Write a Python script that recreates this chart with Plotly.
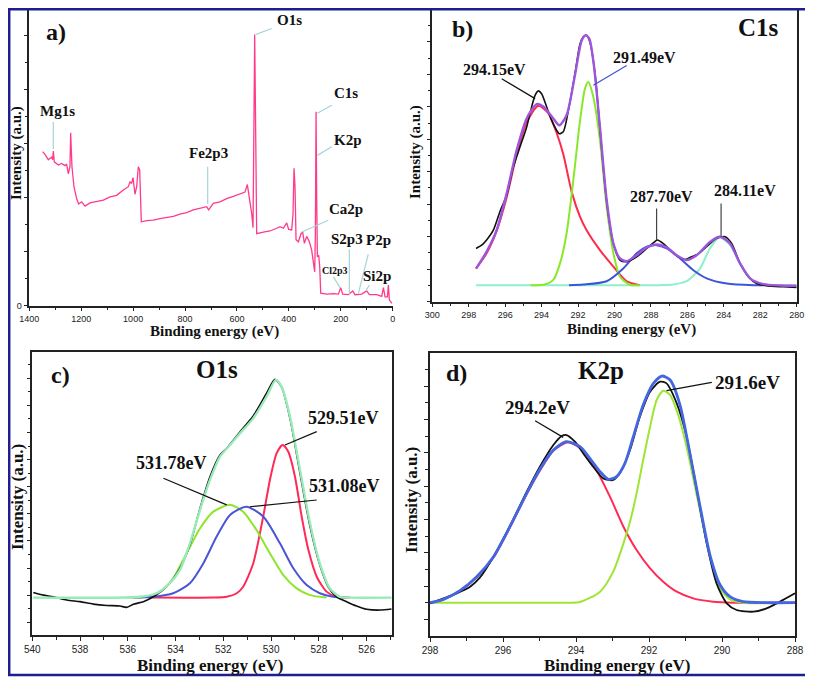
import plotly.graph_objects as go

# The page body has an 8px default margin, so the figure is drawn 8px smaller
# and every layout position below is given in page pixels minus that offset.
PAGE_W, PAGE_H = 813, 682
OFF = 8
W, H = PAGE_W - OFF, PAGE_H - OFF

# ---------------- Panel a: survey spectrum ----------------
a_be = [1348.6, 1339.6, 1326.8, 1313.9, 1310.1, 1307.5, 1303.7, 1288.2, 1275.4, 1262.6, 1256.1, 1249.7,
        1243.3, 1240.7, 1235.6, 1227.9, 1217.6, 1209.9, 1198.3, 1185.5, 1166.2, 1140.5, 1114.8, 1089.1,
        1063.5, 1037.8, 1018.5, 1012.1, 1005.7, 1000.5, 992.8, 986.4, 980.0, 974.8, 968.4, 947.9, 922.2,
        896.5, 870.8, 845.1, 819.4, 793.7, 768.0, 742.3, 716.7, 709.1, 691.0, 665.3, 639.6, 613.9, 588.2,
        569.0, 560.0, 552.2, 543.2, 538.1, 534.3, 531.7, 527.8, 524.0, 498.3, 472.6, 446.9, 434.1, 421.2,
        408.4, 400.7, 389.1, 384.0, 380.1, 376.3, 372.4, 363.4, 353.1, 346.7, 340.3, 331.3, 321.0, 312.0,
        305.6, 300.5, 297.9, 295.3, 292.7, 290.2, 285.1, 281.2, 277.3, 254.2, 228.5, 209.3, 200.3, 192.6,
        170.7, 154.0, 145.0, 119.4, 100.1, 89.8, 61.6, 42.3, 35.8, 29.4, 20.4, 16.6, 12.7, 7.6, 2.5]
a_int = [2.85, 2.80, 2.70, 2.75, 2.70, 2.86, 2.66, 2.60, 2.63, 2.59, 2.62, 2.44,
         2.57, 3.20, 2.57, 2.20, 1.98, 1.88, 1.92, 1.84, 1.90, 1.92, 1.95, 2.01,
         2.04, 2.14, 2.20, 2.29, 2.26, 2.37, 2.06, 2.20, 2.57, 2.51, 1.55, 1.57, 1.58,
         1.61, 1.63, 1.65, 1.69, 1.72, 1.77, 1.80, 1.83, 1.77, 1.89, 1.92, 1.98, 2.02, 2.07,
         2.10, 2.24, 2.01, 1.70, 1.44, 3.19, 5.02, 3.19, 1.33, 1.36, 1.38, 1.43, 1.46, 1.43,
         1.53, 1.41, 1.40, 1.70, 2.54, 2.20, 1.22, 1.18, 1.33, 1.36, 1.15, 1.28, 1.18, 1.02,
         0.78, 0.62, 1.33, 3.59, 1.95, 0.90, 0.93, 0.72, 0.23, 0.21, 0.22, 0.21, 0.33, 0.21,
         0.20, 0.27, 0.20, 0.21, 0.27, 0.20, 0.20, 0.17, 0.33, 0.16, 0.16, 0.38, 0.10, 0.07, 0.04]
a_xticks = [1400, 1200, 1000, 800, 600, 400, 200, 0]

# ---------------- Panel b: C1s ----------------
b_raw_be = [297.60, 297.29, 297.02, 296.65, 296.29, 295.92, 295.55, 295.19, 294.82, 294.55, 294.36, 294.18,
            294.00, 293.72, 293.45, 293.18, 293.03, 292.81, 292.53, 292.17, 291.89, 291.71, 291.53, 291.35,
            291.07, 290.80, 290.43, 290.06, 289.70, 289.33, 288.78, 288.23, 287.87, 287.65, 287.32, 286.95,
            286.50, 286.13, 285.86, 285.40, 284.85, 284.39, 283.93, 283.57, 283.11, 282.65, 282.20, 281.65,
            280.73, 280.00]
b_raw = [1.64, 1.74, 1.90, 2.20, 2.77, 3.28, 4.15, 4.76, 5.38, 5.99, 6.35, 6.49,
         6.40, 5.99, 5.58, 5.28, 5.17, 5.23, 5.89, 7.02, 7.94, 8.15, 8.20, 7.99,
         7.02, 5.33, 3.07, 1.79, 1.28, 1.23, 1.38, 1.64, 1.81, 1.90, 1.79, 1.59,
         1.38, 1.30, 1.36, 1.47, 1.74, 1.95, 2.00, 1.79, 1.18, 0.77, 0.56, 0.49,
         0.46, 0.44]
b_env_be = [297.60, 297.02, 296.47, 295.92, 295.37, 294.82, 294.27, 293.91, 293.36, 293.03, 292.63, 292.17,
            291.80, 291.58, 291.38, 291.13, 290.80, 290.43, 290.06, 289.70, 289.33, 288.78, 288.23, 287.69,
            287.14, 286.59, 286.04, 285.49, 284.76, 284.21, 283.66, 283.11, 282.56, 281.83, 280.92, 280.00]
b_env = [1.02, 1.54, 2.20, 3.33, 4.66, 5.64, 6.08, 6.01, 5.64, 5.43, 5.74, 6.97,
         8.04, 8.20, 8.09, 7.27, 5.38, 3.13, 1.79, 1.33, 1.25, 1.43, 1.67, 1.76,
         1.67, 1.43, 1.28, 1.43, 1.84, 2.00, 1.79, 1.18, 0.72, 0.54, 0.50, 0.49]
b_p1_be = [297.60, 297.02, 296.47, 295.92, 295.37, 294.82, 294.18, 293.63, 293.18, 292.81, 292.35, 291.89,
           291.53, 290.80, 290.06, 289.33, 288.60]
b_p1 = [1.02, 1.49, 2.18, 3.21, 4.52, 5.52, 6.03, 5.80, 5.20, 4.54, 3.38, 2.61,
        2.20, 1.59, 1.08, 0.63, 0.51]
b_p2_be = [294.60, 293.90, 293.36, 292.99, 292.63, 292.26, 291.89, 291.62, 291.44, 291.16, 290.80, 290.43,
           290.06, 289.70, 289.15, 288.60]
b_p2 = [0.51, 0.52, 0.67, 1.18, 2.10, 3.74, 5.58, 6.56, 6.76, 6.30, 4.97, 2.92,
        1.49, 0.77, 0.52, 0.51]
b_p3_be = [292.50, 291.71, 290.43, 289.52, 288.78, 288.23, 287.69, 287.14, 286.40, 285.67, 284.94, 283.84,
           282.38, 281.50]
b_p3 = [0.51, 0.53, 0.63, 1.02, 1.49, 1.69, 1.74, 1.64, 1.33, 0.97, 0.72, 0.56,
        0.51, 0.51]
b_p4_be = [297.60, 292.00, 287.50, 286.77, 286.04, 285.31, 284.76, 284.21, 283.66, 283.11, 282.57, 282.02,
           281.47, 280.00]
b_p4 = [0.51, 0.51, 0.51, 0.53, 0.63, 1.02, 1.64, 1.98, 1.74, 1.18, 0.72, 0.54,
        0.51, 0.51]
b_xticks = [300, 298, 296, 294, 292, 290, 288, 286, 284, 282, 280]

# ---------------- Panel c: O1s ----------------
c_raw_be = [539.96, 539.54, 539.12, 538.56, 538.00, 537.45, 536.89, 536.33, 536.05, 535.77, 535.35, 534.93,
            534.38, 533.82, 533.40, 532.98, 532.56, 532.14, 531.86, 531.30, 530.75, 530.19, 529.84, 529.56,
            529.21, 528.79, 528.37, 527.96, 527.61, 527.26, 526.84, 526.42, 526.00, 525.44, 524.95]
c_raw = [2.10, 2.00, 1.94, 1.82, 1.76, 1.67, 1.62, 1.60, 1.55, 1.66, 1.76, 1.94,
         2.31, 2.99, 3.85, 5.20, 6.37, 7.17, 7.42, 8.03, 8.61, 9.45, 9.96, 9.67,
         8.52, 6.49, 4.53, 3.11, 2.31, 1.94, 1.76, 1.60, 1.48, 1.45, 1.49]
c_env_be = [539.96, 535.49, 534.79, 534.24, 533.82, 533.40, 532.98, 532.56, 532.14, 531.72, 531.30, 530.75,
            530.19, 529.80, 529.56, 529.21, 528.79, 528.37, 527.96, 527.54, 527.12, 526.70, 524.95]
c_env = [1.91, 1.94, 2.07, 2.44, 2.93, 3.91, 5.14, 6.25, 7.11, 7.54, 7.97, 8.52,
         9.32, 9.94, 9.69, 8.59, 6.62, 4.65, 3.17, 2.25, 1.94, 1.91, 1.91]
c_p1_be = [535.00, 532.42, 531.86, 531.44, 531.17, 530.75, 530.33, 530.05, 529.77, 529.52, 529.28, 529.00,
           528.72, 528.44, 528.09, 527.68, 527.26, 526.70]
c_p1 = [1.91, 1.91, 1.94, 2.07, 2.31, 3.17, 4.90, 6.25, 7.23, 7.54, 7.29, 6.37,
        4.90, 3.67, 2.68, 2.13, 1.94, 1.91]
c_p2_be = [536.05, 535.21, 534.65, 534.10, 533.54, 532.98, 532.42, 531.72, 531.17, 530.61, 530.05, 529.49,
           528.93, 528.37, 527.68]
c_p2 = [1.91, 1.94, 2.13, 2.62, 3.54, 4.46, 5.08, 5.33, 5.08, 4.40, 3.54, 2.74,
        2.25, 2.00, 1.91]
c_p3_be = [535.77, 534.93, 534.10, 533.40, 532.84, 532.28, 531.72, 531.03, 530.33, 529.63, 529.07, 528.51,
           527.96, 527.40, 526.84]
c_p3 = [1.91, 1.94, 2.07, 2.44, 3.17, 4.16, 4.96, 5.26, 4.90, 3.91, 2.99, 2.37,
        2.07, 1.94, 1.91]
c_xticks = [540, 538, 536, 534, 532, 530, 528, 526]

# ---------------- Panel d: K2p ----------------
d_raw_be = [298.00, 297.63, 297.27, 296.90, 296.63, 296.26, 295.81, 295.35, 294.99, 294.62, 294.39, 294.26,
            294.03, 293.80, 293.53, 293.25, 292.98, 292.75, 292.52, 292.25, 291.97, 291.70, 291.52, 291.24,
            290.97, 290.69, 290.42, 290.15, 289.87, 289.60, 289.14, 288.78, 288.41, 288.00]
d_raw = [1.48, 1.63, 1.78, 1.98, 2.26, 2.88, 3.80, 4.83, 5.58, 6.23, 6.50, 6.53,
         6.33, 5.98, 5.58, 5.23, 5.18, 5.48, 6.08, 7.08, 7.83, 8.13, 8.08, 7.48,
         6.48, 4.88, 3.28, 2.08, 1.48, 1.28, 1.23, 1.33, 1.53, 1.78]
d_env_be = [298.00, 297.63, 297.18, 296.72, 296.26, 295.81, 295.35, 294.99, 294.62, 294.26, 293.89, 293.62,
            293.34, 293.11, 292.89, 292.66, 292.43, 292.16, 291.88, 291.65, 291.42, 291.15, 290.88, 290.60,
            290.33, 290.05, 289.78, 289.42, 288.78, 288.00]
d_env = [1.50, 1.60, 1.86, 2.28, 2.88, 3.78, 4.78, 5.50, 6.08, 6.33, 6.18, 5.83,
         5.43, 5.20, 5.28, 5.68, 6.48, 7.43, 8.08, 8.30, 8.18, 7.43, 5.98, 4.38,
         2.93, 2.03, 1.68, 1.53, 1.50, 1.50]
d_p1_be = [298.00, 297.63, 297.18, 296.72, 296.26, 295.81, 295.35, 294.99, 294.62, 294.21, 293.80, 293.43,
           293.07, 292.70, 292.34, 291.97, 291.61, 291.24, 290.79, 290.24, 289.69, 288.00]
d_p1 = [1.48, 1.60, 1.85, 2.26, 2.86, 3.76, 4.76, 5.46, 6.06, 6.31, 6.06, 5.46,
        4.68, 3.78, 3.08, 2.53, 2.13, 1.83, 1.63, 1.53, 1.50, 1.50]
d_p2_be = [298.00, 294.26, 293.89, 293.34, 292.98, 292.70, 292.52, 292.34, 292.16, 291.97, 291.79, 291.61,
           291.42, 291.20, 290.97, 290.74, 290.51, 290.28, 290.05, 289.78, 289.42, 288.00]
d_p2 = [1.50, 1.50, 1.52, 1.83, 2.43, 3.28, 3.93, 4.78, 5.78, 6.78, 7.58, 7.86,
        7.73, 7.13, 6.18, 4.98, 3.78, 2.68, 1.93, 1.60, 1.50, 1.50]
d_xticks = [298, 296, 294, 292, 290, 288]


# ---------------- helpers ----------------
def px(x):
    return min(max((x - OFF) / W, 0.0), 1.0)


def py(y):
    return min(max(1 - (y - OFF) / H, 0.0), 1.0)


SERIF = "Liberation Serif, Times New Roman, serif"
SANS = "Liberation Sans, Arial, sans-serif"
AX = "#222222"


def axis(domain, anchor, rng, tickvals, ticktext, minor_vals, fsize, mirror, showlabels=True):
    return dict(domain=domain, anchor=anchor, range=rng, autorange=False, automargin=False,
                tickmode="array", tickvals=tickvals, ticktext=ticktext,
                showticklabels=showlabels, ticks="outside", ticklen=4, tickwidth=1.2,
                tickcolor=AX, showline=True, linecolor=AX, linewidth=1.5, mirror=mirror,
                showgrid=False, zeroline=False,
                tickfont=dict(family=SANS, size=fsize, color="#222"),
                minor=dict(tickvals=minor_vals, ticks="outside", ticklen=3,
                           tickcolor=AX, tickwidth=1, showgrid=False))


def frange(a, b, step):
    out = []
    v = a
    while v <= b + 1e-9:
        out.append(round(v, 3))
        v += step
    return out


fig = go.Figure()


def line(x, y, xa, ya, color, width, smooth=True):
    fig.add_trace(go.Scatter(x=x, y=y, xaxis=xa, yaxis=ya, mode="lines",
                             line=dict(color=color, width=width,
                                       shape="spline" if smooth else "linear",
                                       smoothing=0.7 if smooth else None),
                             hoverinfo="skip", showlegend=False))


# panel a
line(a_be, a_int, "x", "y", "#ff3a8c", 1.3, smooth=False)

# panel b
line(b_p4_be, b_p4, "x2", "y2", "#8ff0cc", 2)
line(b_p1_be, b_p1, "x2", "y2", "#ff2a4a", 2)
line(b_p2_be, b_p2, "x2", "y2", "#88e82a", 2)
line(b_p3_be, b_p3, "x2", "y2", "#3d55d6", 2)
line(b_raw_be, b_raw, "x2", "y2", "#111111", 1.6)
line(b_env_be, b_env, "x2", "y2", "#9d55dd", 2.4)

# panel c
line(c_p1_be, c_p1, "x3", "y3", "#ff2a55", 2)
line(c_p2_be, c_p2, "x3", "y3", "#8ee52a", 2)
line(c_p3_be, c_p3, "x3", "y3", "#4a55d6", 2)
line(c_raw_be, c_raw, "x3", "y3", "#111111", 1.6)
line(c_env_be, c_env, "x3", "y3", "#98ebb8", 2.4)

# panel d
line(d_p1_be, d_p1, "x4", "y4", "#ff2a55", 2)
line(d_p2_be, d_p2, "x4", "y4", "#9ee535", 2)
line(d_raw_be, d_raw, "x4", "y4", "#111111", 1.8)
line(d_env_be, d_env, "x4", "y4", "#4466e0", 2.8)

# panel a: y axis top sits at the figure's top edge (page y=8); 54 px per unit
a_ytop = (305.5 - OFF) / 54.0

layout = dict(
    width=W, height=H, margin=dict(l=0, r=0, t=0, b=0, autoexpand=False),
    paper_bgcolor="white", plot_bgcolor="rgba(0,0,0,0)", showlegend=False,
    xaxis=axis([px(29.3), px(392.7)], "y", [1400, 0], a_xticks, [str(v) for v in a_xticks],
               frange(100, 1300, 200), 9, False),
    yaxis=axis([py(305.5), 1.0], "x", [0, a_ytop], [0, 1, 2, 3, 4, 5], ["0", "", "", "", "", ""],
               frange(0.5, 5.5, 1), 9, False),
    xaxis2=axis([px(432.3), px(796.7)], "y2", [300, 280], b_xticks, [str(v) for v in b_xticks],
                frange(281, 299, 2), 9, True),
    yaxis2=axis([py(301.7), py(9.3)], "x2", [0, 9], list(range(0, 9)), [""] * 9,
                frange(0.5, 8.5, 1), 9, True, showlabels=False),
    xaxis3=axis([px(32.3), px(391.7)], "y3", [540, 524.95], c_xticks, [str(v) for v in c_xticks],
                frange(525, 539, 2), 10, True),
    yaxis3=axis([py(635), py(351.7)], "x3", [0.53, 10.98], list(range(1, 11)), [""] * 10,
                frange(1.5, 10.5, 1), 10, True, showlabels=False),
    xaxis4=axis([px(430), px(795)], "y4", [298, 288], d_xticks, [str(v) for v in d_xticks],
                frange(289, 297, 2), 10, True),
    yaxis4=axis([py(636), py(352.7)], "x4", [0.5, 9.0], list(range(1, 9)), [""] * 8,
                frange(1.5, 8.5, 1), 10, True, showlabels=False),
)
fig.update_layout(**layout)

annotations = []
shapes = []


def label(text, x, y, xr, yr, size, color="#111"):
    annotations.append(dict(text="<b>%s</b>" % text, x=x, y=y, xref=xr, yref=yr,
                            showarrow=False, xanchor="center", yanchor="middle",
                            font=dict(family=SERIF, size=size, color=color)))


def lead(x0, y0, x1, y1, xr, yr, color, width=1.2):
    shapes.append(dict(type="line", x0=x0, y0=y0, x1=x1, y1=y1, xref=xr, yref=yr,
                       line=dict(color=color, width=width)))


# panel a labels
TEAL = "#a6d4d9"
label("a)", 1297, 5.06, "x", "y", 24)
label("O1s", 399, 5.28, "x", "y", 15)
lead(526.5, 5.02, 466, 5.13, "x", "y", TEAL)
label("Mg1s", 1292, 3.60, "x", "y", 15)
lead(1307.5, 3.40, 1307.5, 2.90, "x", "y", TEAL)
label("Fe2p3", 710, 2.83, "x", "y", 15)
lead(712.8, 2.57, 712.8, 1.88, "x", "y", TEAL)
label("C1s", 181, 3.94, "x", "y", 15)
lead(290.2, 3.56, 235, 3.71, "x", "y", TEAL)
label("K2p", 171, 3.06, "x", "y", 15)
lead(290.0, 2.78, 235, 2.94, "x", "y", TEAL)
label("Ca2p", 181, 1.78, "x", "y", 15)
lead(350.6, 1.36, 248, 1.58, "x", "y", TEAL)
label("S2p3", 177, 1.24, "x", "y", 15)
lead(167, 1.04, 167, 0.21, "x", "y", TEAL)
label("P2p", 55, 1.22, "x", "y", 15)
lead(132, 0.23, 94, 0.95, "x", "y", TEAL)
label("Cl2p3", 222, 0.64, "x", "y", 10)
lead(228.5, 0.53, 203, 0.33, "x", "y", TEAL)
label("Si2p", 62, 0.54, "x", "y", 15)
lead(103, 0.27, 90, 0.38, "x", "y", TEAL)

# panel b labels
label("b)", 298.35, 8.40, "x2", "y2", 24)
label("C1s", 282.07, 8.45, "x2", "y2", 25)
label("294.15eV", 296.56, 7.15, "x2", "y2", 16)
lead(296.19, 6.86, 294.36, 6.25, "x2", "y2", "#111")
label("291.49eV", 288.33, 7.53, "x2", "y2", 16)
lead(291.16, 6.66, 289.33, 7.27, "x2", "y2", "#3d55d6")
label("287.70eV", 287.41, 3.25, "x2", "y2", 16)
lead(287.69, 2.87, 287.69, 1.90, "x2", "y2", "#444")
label("284.11eV", 282.84, 3.43, "x2", "y2", 16)
lead(284.15, 3.02, 284.15, 2.00, "x2", "y2", "#444")

# panel c labels
label("c)", 538.84, 10.12, "x3", "y3", 24)
label("O1s", 532.28, 10.31, "x3", "y3", 25)
label("529.51eV", 526.98, 8.52, "x3", "y3", 18)
lead(529.42, 7.54, 528.09, 8.03, "x3", "y3", "#111")
label("531.78eV", 534.17, 6.86, "x3", "y3", 18)
lead(534.51, 6.31, 531.86, 5.33, "x3", "y3", "#111")
label("531.08eV", 526.91, 6.03, "x3", "y3", 18)
lead(530.89, 5.26, 528.09, 5.51, "x3", "y3", "#111")

# panel d labels
label("d)", 297.27, 8.40, "x4", "y4", 24)
label("K2p", 293.32, 8.46, "x4", "y4", 25)
label("294.2eV", 295.06, 7.36, "x4", "y4", 19)
lead(295.12, 6.96, 294.35, 6.46, "x4", "y4", "#111")
label("291.6eV", 289.31, 8.11, "x4", "y4", 19)
lead(291.52, 7.86, 290.28, 8.11, "x4", "y4", "#111")


# axis titles (paper coordinates)
def title(text, x, y, size, angle=0):
    annotations.append(dict(text="<b>%s</b>" % text, x=px(x), y=py(y), xref="paper", yref="paper",
                            showarrow=False, xanchor="center", yanchor="middle", textangle=angle,
                            font=dict(family=SERIF, size=size, color="#111")))


title("Binding energy (eV)", 214, 331, 15)
title("Binding energy (eV)", 631, 330, 15)
title("Binding energy (eV)", 210, 665, 17)
title("Binding energy (eV)", 617, 665, 17)
title("Intensity (a.u.)", 17, 153, 15, -90)
title("Intensity (a.u.)", 415, 152, 15, -90)
title("Intensity (a.u.)", 17, 497, 17, -90)
title("Intensity (a.u.)", 411, 500, 17, -90)

# outer frame (the page's left/top 8px are outside the figure, so hug the edge)
shapes.append(dict(type="rect", xref="paper", yref="paper", x0=px(9.2), x1=px(808), y0=py(675), y1=py(9.2),
                   line=dict(color="#1e1e90", width=2.5)))

fig.update_layout(annotations=annotations, shapes=shapes)
fig.write_html("out.html")
